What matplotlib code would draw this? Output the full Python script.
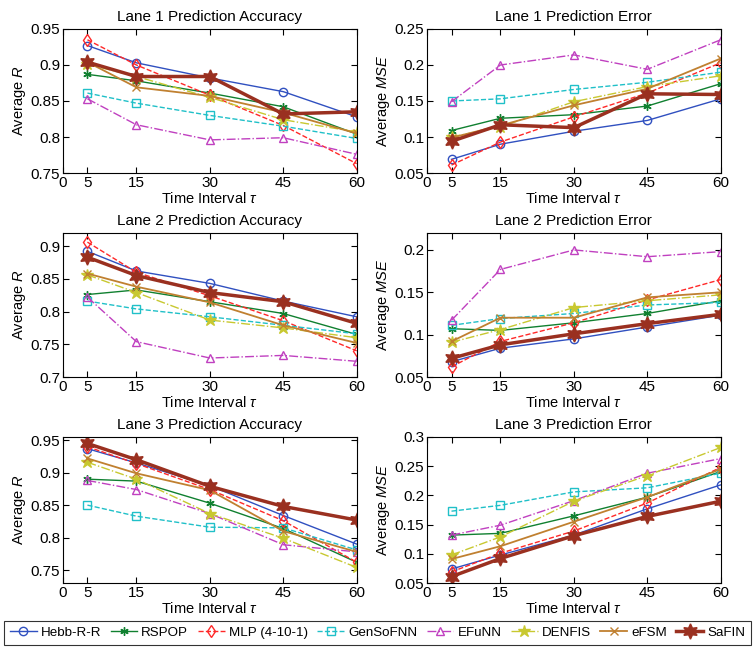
import matplotlib
matplotlib.use("Agg")
import matplotlib.pyplot as plt

plt.rcParams['font.family'] = ['Liberation Sans', 'DejaVu Sans']
plt.rcParams['mathtext.fontset'] = 'custom'
plt.rcParams['mathtext.it'] = 'Liberation Sans:italic'
plt.rcParams['mathtext.rm'] = 'Liberation Sans'

intervals = [5, 15, 30, 45, 60]
methods = ["Hebb-R-R", "RSPOP", "MLP (4-10-1)", "GenSoFNN", "EFuNN", "DENFIS", "eFSM", "SaFIN"]

# lane 1
lane1_r = {
    "Hebb-R-R":     [0.927, 0.903, 0.882, 0.863, 0.828],
    "RSPOP":        [0.887, 0.878, 0.861, 0.842, 0.804],
    "MLP (4-10-1)": [0.935, 0.900, 0.858, 0.816, 0.763],
    "GenSoFNN":     [0.861, 0.847, 0.830, 0.815, 0.798],
    "EFuNN":        [0.853, 0.817, 0.796, 0.799, 0.776],
    "DENFIS":       [0.901, 0.884, 0.855, 0.824, 0.807],
    "eFSM":         [0.904, 0.869, 0.857, 0.834, 0.805],
    "SaFIN":        [0.904, 0.884, 0.884, 0.832, 0.835],
}
lane1_mse = {
    "Hebb-R-R":     [0.069, 0.090, 0.108, 0.123, 0.153],
    "RSPOP":        [0.109, 0.126, 0.131, 0.143, 0.174],
    "MLP (4-10-1)": [0.061, 0.093, 0.128, 0.161, 0.203],
    "GenSoFNN":     [0.150, 0.153, 0.166, 0.176, 0.190],
    "EFuNN":        [0.149, 0.200, 0.214, 0.194, 0.235],
    "DENFIS":       [0.100, 0.114, 0.149, 0.170, 0.185],
    "eFSM":         [0.099, 0.116, 0.144, 0.167, 0.209],
    "SaFIN":        [0.094, 0.117, 0.113, 0.160, 0.159],
}

# lane 2
lane2_r = {
    "Hebb-R-R":     [0.892, 0.862, 0.843, 0.816, 0.792],
    "RSPOP":        [0.826, 0.833, 0.815, 0.797, 0.765],
    "MLP (4-10-1)": [0.906, 0.860, 0.824, 0.786, 0.740],
    "GenSoFNN":     [0.816, 0.804, 0.792, 0.779, 0.766],
    "EFuNN":        [0.822, 0.754, 0.729, 0.733, 0.724],
    "DENFIS":       [0.856, 0.829, 0.787, 0.775, 0.760],
    "eFSM":         [0.858, 0.838, 0.814, 0.779, 0.752],
    "SaFIN":        [0.883, 0.855, 0.829, 0.815, 0.782],
}
lane2_mse = {
    "Hebb-R-R":     [0.068, 0.084, 0.095, 0.109, 0.123],
    "RSPOP":        [0.107, 0.105, 0.114, 0.125, 0.140],
    "MLP (4-10-1)": [0.062, 0.092, 0.114, 0.141, 0.165],
    "GenSoFNN":     [0.111, 0.119, 0.125, 0.135, 0.138],
    "EFuNN":        [0.117, 0.177, 0.200, 0.192, 0.198],
    "DENFIS":       [0.091, 0.106, 0.132, 0.140, 0.147],
    "eFSM":         [0.092, 0.120, 0.120, 0.144, 0.150],
    "SaFIN":        [0.072, 0.088, 0.101, 0.113, 0.124],
}

# lane 3
lane3_r = {
    "Hebb-R-R":     [0.937, 0.915, 0.880, 0.834, 0.790],
    "RSPOP":        [0.890, 0.887, 0.853, 0.814, 0.762],
    "MLP (4-10-1)": [0.940, 0.914, 0.874, 0.826, 0.762],
    "GenSoFNN":     [0.850, 0.833, 0.816, 0.815, 0.781],
    "EFuNN":        [0.888, 0.874, 0.837, 0.789, 0.778],
    "DENFIS":       [0.916, 0.890, 0.837, 0.799, 0.754],
    "eFSM":         [0.922, 0.899, 0.873, 0.810, 0.778],
    "SaFIN":        [0.945, 0.920, 0.879, 0.848, 0.827],
}
lane3_mse = {
    "Hebb-R-R":     [0.074, 0.098, 0.132, 0.177, 0.218],
    "RSPOP":        [0.132, 0.135, 0.165, 0.197, 0.241],
    "MLP (4-10-1)": [0.069, 0.101, 0.139, 0.187, 0.248],
    "GenSoFNN":     [0.173, 0.183, 0.206, 0.213, 0.238],
    "EFuNN":        [0.132, 0.149, 0.191, 0.238, 0.263],
    "DENFIS":       [0.098, 0.129, 0.190, 0.234, 0.282],
    "eFSM":         [0.091, 0.113, 0.155, 0.197, 0.245],
    "SaFIN":        [0.061, 0.092, 0.131, 0.164, 0.190],
}

styles = {
    "Hebb-R-R":     dict(color='#3050c0', ls='-', marker='o', mfc='none', ms=6, lw=1.0),
    "RSPOP":        dict(color='#108030', ls='-', marker=(6, 2, 0), ms=6, lw=1.0),
    "MLP (4-10-1)": dict(color='#ff2828', ls='--', marker='d', mfc='none', ms=6, lw=1.0),
    "GenSoFNN":     dict(color='#20c0c8', ls='--', marker='s', mfc='none', ms=6, lw=1.0),
    "EFuNN":        dict(color='#c040c0', ls='-.', marker='^', mfc='none', ms=6, lw=1.0),
    "DENFIS":       dict(color='#c8c830', ls='-.', marker='*', ms=9, lw=1.0),
    "eFSM":         dict(color='#c08030', ls='-', marker='x', ms=6, lw=1.3),
    "SaFIN":        dict(color='#9a3020', ls='-', marker=(6, 1, 0), ms=11, lw=2.5),
}

panels = [
    ("Lane 1 Prediction Accuracy", lane1_r, (0.75, 0.95), [0.75, 0.8, 0.85, 0.9, 0.95], "Average $R$"),
    ("Lane 1 Prediction Error", lane1_mse, (0.05, 0.25), [0.05, 0.1, 0.15, 0.2, 0.25], "Average $MSE$"),
    ("Lane 2 Prediction Accuracy", lane2_r, (0.7, 0.92), [0.7, 0.75, 0.8, 0.85, 0.9], "Average $R$"),
    ("Lane 2 Prediction Error", lane2_mse, (0.05, 0.22), [0.05, 0.1, 0.15, 0.2], "Average $MSE$"),
    ("Lane 3 Prediction Accuracy", lane3_r, (0.73, 0.955), [0.75, 0.8, 0.85, 0.9, 0.95], "Average $R$"),
    ("Lane 3 Prediction Error", lane3_mse, (0.05, 0.3), [0.05, 0.1, 0.15, 0.2, 0.25, 0.3], "Average $MSE$"),
]

lefts = [0.0834, 0.5656]
bottoms = [0.7326, 0.4173, 0.0989]
heights = [0.2226, 0.2226, 0.2257]
width = 0.389

fig = plt.figure(figsize=(7.55, 6.47), dpi=100)

for i, (title, data, ylim, yticks, ylabel) in enumerate(panels):
    row, col = divmod(i, 2)
    ax = fig.add_axes([lefts[col], bottoms[row], width, heights[row]])
    for m in methods:
        ax.plot(intervals, data[m], label=m, **styles[m])
    ax.set_xlim(0, 60)
    ax.set_ylim(*ylim)
    ax.set_xticks([0] + intervals)
    ax.set_xticklabels([str(v) for v in [0] + intervals])
    ax.set_yticks(yticks)
    ax.set_yticklabels(['%g' % v for v in yticks])
    ax.tick_params(direction='in', top=True, right=True, labelsize=11, length=4, pad=2)
    ax.set_title(title, fontsize=11, pad=6)
    ax.set_xlabel(r"Time Interval $\tau$", fontsize=10.5, labelpad=1)
    ax.set_ylabel(ylabel, fontsize=10.5, labelpad=2)

handles, labels = ax.get_legend_handles_labels()
leg = fig.legend(handles, labels, loc='lower center', bbox_to_anchor=(0.5, 0.003), ncol=8,
                 fontsize=9.6, frameon=True, fancybox=False, edgecolor='black',
                 handlelength=2.0, handletextpad=0.3, columnspacing=0.72,
                 borderpad=0.45, borderaxespad=0.0, numpoints=1)
leg.get_frame().set_linewidth(0.8)

fig.savefig("out.png", dpi=100)
